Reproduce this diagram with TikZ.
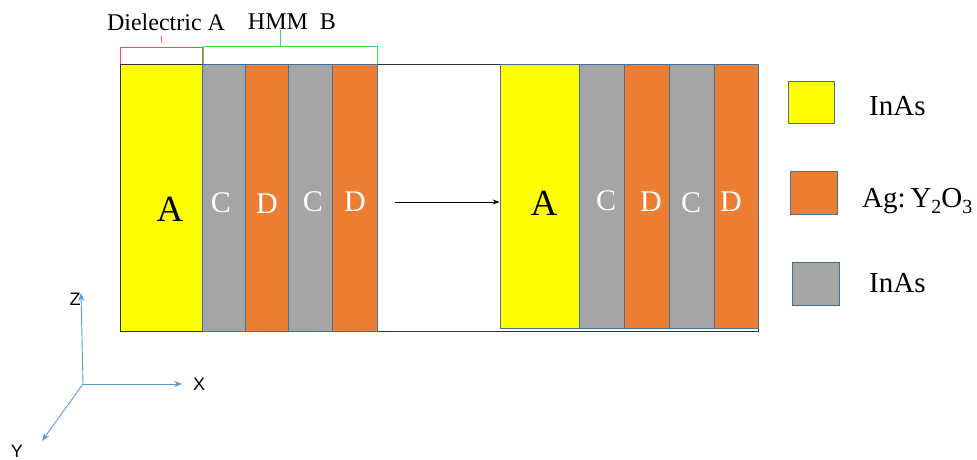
\documentclass[tikz,border=0pt]{standalone}
\usepackage{fontspec}
\setmainfont{Liberation Serif}
\newfontfamily\axfont{Liberation Sans}
\usetikzlibrary{arrows.meta}
\definecolor{yel}{HTML}{FFFF00}
\definecolor{org}{HTML}{ED7D31}
\definecolor{gry}{HTML}{A5A5A5}
\definecolor{bord}{HTML}{41719C}
\definecolor{axc}{HTML}{5B9BD5}
\definecolor{redb}{HTML}{FF4B4B}
\definecolor{grnb}{HTML}{3FE03F}
\newcommand{\subsc}[1]{\raisebox{-0.22em}{\fontsize{20}{20}\selectfont #1}}
\begin{document}
\begin{tikzpicture}[x=1pt,y=-1pt,
  layer/.style={draw=bord,line width=0.7pt,inner sep=0pt},
  lefth/.style={minimum height=267pt},
  righth/.style={minimum height=264pt},
  alab/.style={font=\fontsize{37}{37}\selectfont,text=black},
  wlab/.style={font=\fontsize{30}{30}\selectfont,text=white},
  legbox/.style={draw=bord,line width=0.8pt,inner sep=0pt,minimum width=46pt,minimum height=42pt},
  legtxt/.style={font=\fontsize{29}{29}\selectfont,anchor=west,inner sep=0pt},
  toptxt/.style={font=\fontsize{24}{24}\selectfont,inner sep=0pt},
  axis/.style={draw=axc,line width=0.9pt,-{Stealth[length=8pt,width=6pt]}},
  axlab/.style={font=\axfont\fontsize{18}{18}\selectfont,inner sep=0pt}]
\useasboundingbox (0,0) rectangle (977,460);
% outer frame
\node[draw=black!80,line width=0.9pt,inner sep=0pt,minimum width=638pt,minimum height=267pt] (frame) at (439,197.5) {};
% left stack
\node[layer,lefth,fill=yel,minimum width=82pt,draw=black!80] (A1) at (161,197.5) {};
\node[alab] (A1t) at (170,209) {A};
\node[layer,lefth,fill=gry,minimum width=43pt] (C1) at (223.5,197.5) {};
\node[wlab] (C1t) at (221,203) {C};
\node[layer,lefth,fill=org,minimum width=43pt] (D1) at (266.5,197.5) {};
\node[wlab] (D1t) at (267,204) {D};
\node[layer,lefth,fill=gry,minimum width=44pt] (C2) at (310,197.5) {};
\node[wlab] (C2t) at (313,202) {C};
\node[layer,lefth,fill=org,minimum width=45pt] (D2) at (354.5,197.5) {};
\node[wlab] (D2t) at (355,202) {D};
% right stack
\node[layer,righth,fill=yel,minimum width=79pt] (A2) at (539.5,196) {};
\node[alab] (A2t) at (544,203) {A};
\node[layer,righth,fill=gry,minimum width=45pt] (C3) at (601.5,196) {};
\node[wlab] (C3t) at (606,201) {C};
\node[layer,righth,fill=org,minimum width=45pt] (D3) at (646.5,196) {};
\node[wlab] (D3t) at (651,202) {D};
\node[layer,righth,fill=gry,minimum width=45pt] (C4) at (691.5,196) {};
\node[wlab] (C4t) at (691,203) {C};
\node[layer,righth,fill=org,minimum width=44pt] (D4) at (736,196) {};
\node[wlab] (D4t) at (731,202) {D};
% arrow
\coordinate (arrS) at (395,202);
\draw[line width=0.8pt,-{Stealth[length=7pt,width=5pt]}] (arrS) -- (A2.west |- arrS);
% brackets
\draw[redb,line width=0.8pt] (A1.north west) ++(1,0) -- ++(0,-16) -| (A1.north east);
\draw[redb,line width=0.8pt] (161,36) -- (162,43);
\draw[grnb,line width=0.8pt] (C1.north west) ++(2,0) -- ++(0,-17) -| (D2.north east);
\draw[grnb,line width=0.8pt] (280,47) -- (280,30);
\node[toptxt] (diel) at (166,22) {Dielectric A};
\node[toptxt] (hmm) at (292,22) {HMM~~B};
% legend
\node[legbox,fill=yel] (L1) at (811,102) {};
\node[legtxt] (L1t) at (869,106) {InAs};
\node[legbox,fill=org,minimum width=47pt,minimum height=43pt] (L2) at (813.5,192.5) {};
\node[legtxt] (L2t) at (862,201) {Ag:\,Y\subsc{2}O\subsc{3}};
\node[legbox,fill=gry,minimum width=47pt,minimum height=43pt] (L3) at (815.5,283.5) {};
\node[legtxt] (L3t) at (869,283) {InAs};
% axes
\coordinate (O) at (83,384);
\coordinate (Zend) at (81,293);
\coordinate (Xend) at (182,384);
\coordinate (Yend) at (42,441);
\draw[axis] (O) -- (Zend);
\draw[axis] (O) -- (Xend);
\draw[axis] (O) -- (Yend);
\node[axlab] (Zl) at (75,299) {Z};
\node[axlab] (Xl) at (199,384) {X};
\node[axlab] (Yl) at (17,451) {Y};
\end{tikzpicture}
\end{document}
